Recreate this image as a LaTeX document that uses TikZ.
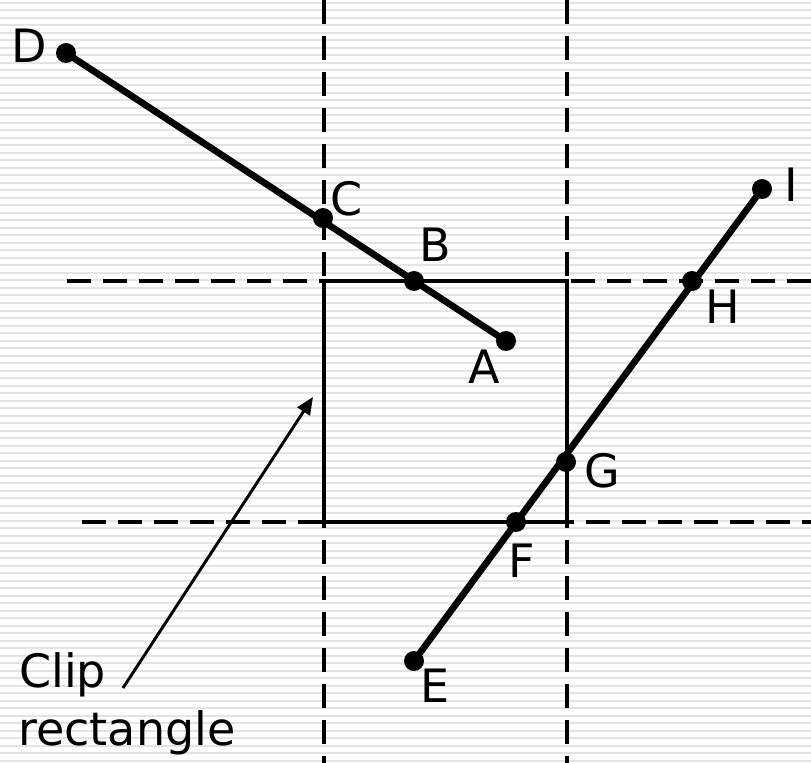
\documentclass[tikz,border=0pt]{standalone}
\usepackage{fontspec}
\setmainfont{DejaVu Sans}
\usetikzlibrary{arrows.meta}
\begin{document}
\begin{tikzpicture}[x=0.75pt,y=-0.75pt,
  dot/.style={circle,fill=black,inner sep=0pt,minimum size=15pt},
  lbl/.style={inner sep=0pt,anchor=base,font=\fontsize{34.5}{43.5}\selectfont},
  txt/.style={inner sep=0pt,anchor=base west,font=\fontsize{34.5}{43.5}\selectfont},
  guide/.style={line width=2.6pt,dash pattern=on 18pt off 9pt},
  seg/.style={line width=5pt},
  cliprect/.style={line width=2.5pt},
  stripe/.style={line width=1.5pt,black!11}]
\useasboundingbox (0,0) rectangle (811,763);
\fill[white] (0,0) rectangle (811,763);
\foreach \y in {3,10.5,...,763} \draw[stripe] (0,\y) -- (811,\y);
% guide lines
\coordinate (v1t) at (324,0);   \coordinate (v1b) at (324,763);
\coordinate (v2t) at (567,0);   \coordinate (v2b) at (567,763);
\coordinate (h1l) at (67,281);  \coordinate (h1r) at (811,281);
\coordinate (h2l) at (82,522);  \coordinate (h2r) at (811,522);
\draw[guide] (v1t) -- (v1b);
\draw[guide] (v2t) -- (v2b);
\draw[guide] (h1l) -- (h1r);
\draw[guide] (h2l) -- (h2r);
% clip rectangle
\coordinate (r1) at (324,281); \coordinate (r2) at (567,522);
\draw[cliprect] (r1) rectangle (r2);
% points
\node[dot] (D) at (66,53) {};
\node[dot] (C) at (323,218) {};
\node[dot] (B) at (414,281) {};
\node[dot] (A) at (506,341) {};
\node[dot] (E) at (414,661) {};
\node[dot] (F) at (516,522) {};
\node[dot] (G) at (566,462) {};
\node[dot] (H) at (692,281) {};
\node[dot] (I) at (762,189) {};
\draw[seg] (D.center) -- (A.center);
\draw[seg] (E.center) -- (I.center);
% labels
\node[lbl] (lD) at (29,63) {D};
\node[lbl] (lC) at (347,216) {C};
\node[lbl] (lB) at (435,262) {B};
\node[lbl] (lA) at (484,383) {A};
\node[lbl] (lG) at (602,487) {G};
\node[lbl] (lH) at (723,323) {H};
\node[lbl] (lI) at (791,202) {I};
\node[lbl] (lE) at (435,702) {E};
\node[lbl] (lF) at (522,577) {F};
\node[txt] (clip) at (19,687) {Clip};
\node[txt] (rect) at (18,745) {rectangle};
% arrow
\coordinate (as) at (123,688);
\coordinate (ae) at (313,397);
\draw[line width=2.2pt,-{Triangle[length=13pt,width=11pt]}] (as) -- (ae);
\end{tikzpicture}
\end{document}
